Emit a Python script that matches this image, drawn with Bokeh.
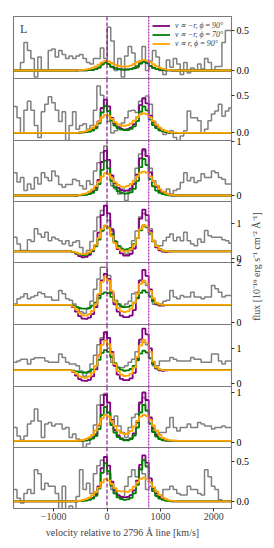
import math
import numpy as np
from bokeh.plotting import figure
from bokeh.layouts import column, row
from bokeh.models import Range1d, FixedTicker, Span, Label, Legend, LegendItem
from bokeh.embed import file_html
from bokeh.resources import INLINE

FONT = "Liberation Serif"

# ---------------- data ----------------
X_START, X_END = -1750, 2330
DATA_BIN_START, DATA_BIN_WIDTH = -1750, 65      # observed spectrum bins [km/s]
MODEL_BIN_START, MODEL_BIN_WIDTH = -660, 60     # model bins [km/s]
LINE_2796 = 0
LINE_2803 = 780
X_TICKS = [-1000, 0, 1000, 2000]
X_TICK_LABELS = ["\u22121000", "0", "1000", "2000"]

data_p1 = [0.0, 0.0, 0.1, 0.35, 0.25, 0.15, -0.08, 0.17, 0.0, 0.0,
           0.25, 0.27, 0.17, 0.25, 0.2, 0.15, 0.18, 0.15, 0.18, 0.2,
           0.15, 0.1, 0.08, 0.15, 0.15, 0.28, 0.15, 0.54, 0.37, 0.0,
           0.15, -0.08, 0.18, 0.3, 0.22, 0.03, 0.08, 0.3, 0.0, 0.12,
           0.25, 0.17, 0.0, -0.05, 0.13, 0.04, 0.15, 0.08, -0.05, 0.1,
           -0.03, 0.03, 0.0, 0.08, 0.02, 0.15, 0.1, 0.0, 0.05, 0.05,
           0.35, 0.5, 0.5]
data_p2 = [0.35, 0.2, 0.0, 0.3, 0.42, 0.3, 0.1, -0.06, 0.28, 0.38,
           0.48, 0.4, 0.3, 0.15, 0.28, -0.1, 0.1, 0.28, 0.05, 0.1,
           0.12, 0.05, 0.1, 0.3, 0.62, 0.5, 0.35, 0.15, 0.0, 0.03,
           0.07, 0.13, 0.2, 0.29, 0.3, 0.27, 0.42, 0.45, 0.49, 0.38,
           0.15, 0.07, 0.03, -0.02, 0.0, 0.03, -0.06, -0.1, -0.04, 0.03,
           0.29, 0.2, 0.2, 0.16, 0.0, 0.05, 0.16, 0.25, 0.29, 0.38,
           0.22, 0.29, 0.33]
data_p3 = [0.42, 0.25, 0.33, 0.09, 0.21, 0.12, 0.33, 0.21, 0.42, 0.33,
           0.27, 0.45, 0.36, 0.2, 0.15, 0.2, 0.2, 0.3, 0.27, 0.18,
           0.12, 0.27, 0.2, 0.45, 0.6, 0.79, 0.91, 0.4, 0.18, 0.12,
           0.03, 0.12, -0.09, 0.09, 0.21, 0.5, 0.76, 0.82, 0.73, 0.5,
           0.27, 0.18, 0.06, 0.06, 0.12, 0.03, 0.09, 0.12, 0.24, 0.42,
           0.27, 0.33, 0.24, 0.27, 0.4, 0.33, 0.33, 0.45, 0.42, 0.33,
           0.3, 0.21, 0.21]
data_p4 = [0.62, 0.43, 0.24, 0.24, 0.55, 0.5, 0.86, 0.71, 0.62, 0.76,
           0.52, 0.62, 0.57, 0.52, 0.43, 0.52, 0.38, 0.48, 0.52, 0.33,
           0.14, 0.24, 0.5, 0.8, 1.2, 1.38, 1.52, 1.1, 0.8, 0.5,
           0.38, 0.24, 0.14, 0.24, 0.52, 0.8, 1.2, 1.3, 1.1, 0.86,
           0.52, 0.38, 0.38, 0.52, 0.62, 0.71, 0.52, 0.62, 0.52, 0.76,
           0.52, 0.43, 0.38, 0.57, 0.48, 0.81, 0.66, 0.62, 0.62, 0.62,
           0.55, 0.52, 0.45]
data_p5 = [0.61, 0.78, 0.84, 0.95, 0.78, 0.84, 0.89, 1.0, 0.95, 0.84,
           0.84, 0.73, 0.73, 1.06, 0.95, 0.78, 0.73, 0.61, 0.5, 0.35,
           0.3, 0.45, 0.7, 1.1, 1.45, 1.84, 1.84, 1.56, 0.95, 0.73,
           0.61, 0.5, 0.61, 0.7, 0.95, 1.0, 1.4, 1.34, 1.23, 0.89,
           0.6, 0.6, 0.61, 0.7, 0.73, 1.06, 0.84, 0.78, 0.89, 0.84,
           0.84, 1.0, 0.84, 0.84, 0.78, 0.84, 0.84, 1.23, 1.12, 1.0,
           0.84, 0.89, 0.89]
data_p6 = [0.6, 0.64, 0.69, 0.69, 0.55, 0.69, 0.73, 0.73, 0.73, 0.64,
           0.6, 0.6, 0.6, 0.84, 0.74, 0.6, 0.55, 0.55, 0.5, 0.35,
           0.2, 0.3, 0.55, 0.8, 1.1, 1.3, 1.41, 1.0, 0.6, 0.5,
           0.45, 0.45, 0.5, 0.6, 0.69, 0.9, 1.17, 1.17, 1.1, 0.7,
           0.5, 0.5, 0.64, 0.64, 0.64, 0.74, 0.69, 0.64, 0.64, 0.64,
           0.64, 0.74, 0.69, 0.69, 0.6, 0.6, 0.6, 0.84, 0.84, 0.64,
           0.55, 0.64, 0.64]
data_p7 = [0.3, 0.13, 0.05, 0.13, 0.37, 0.43, 0.67, 0.43, 0.1, 0.37,
           0.4, 0.33, 0.37, 0.37, 0.27, 0.3, 0.1, 0.17, 0.07, 0.03,
           -0.1, -0.03, 0.1, 0.35, 0.75, 0.95, 0.98, 0.6, 0.37, 0.53,
           0.33, 0.2, 0.1, 0.3, 0.5, 0.57, 0.77, 0.9, 0.63, 0.37,
           0.23, 0.17, 0.2, 0.2, 0.3, 0.5, 0.3, 0.23, 0.3, 0.3,
           0.37, 0.3, 0.3, 0.4, 0.37, 0.33, 0.33, 0.27, 0.3, 0.3,
           0.33, 0.3, 0.3]
data_p8 = [0.15, 0.04, -0.02, 0.1, 0.15, 0.1, 0.4, 0.35, 0.15, 0.23,
           0.19, 0.19, 0.1, -0.1, 0.19, -0.1, -0.06, -0.1, 0.06, 0.4,
           0.15, 0.23, 0.1, 0.35, 0.45, 0.52, 0.48, 0.35, 0.15, 0.1,
           0.06, 0.06, 0.19, 0.31, 0.4, 0.31, 0.42, 0.35, 0.15, 0.19,
           0.15, 0.06, 0.06, 0.15, 0.15, 0.19, 0.15, 0.1, 0.08, 0.08,
           0.19, 0.15, 0.15, 0.1, 0.08, 0.4, 0.31, 0.19, 0.15, 0.02,
           0.0, 0.0, 0.0]

purple_p1 = [0, 0, 0.001, 0.002, 0.003, 0.005, 0.009, 0.018, 0.037, 0.079,
             0.105, 0.084, 0.047, 0.028, 0.018, 0.013, 0.011, 0.013, 0.017, 0.029,
             0.052, 0.092, 0.115, 0.098, 0.058, 0.035, 0.021, 0.012, 0.007, 0.003,
             0.001, 0, 0, 0]
green_p1 = [0, 0, 0.001, 0.002, 0.003, 0.005, 0.009, 0.017, 0.035, 0.075,
            0.1, 0.08, 0.045, 0.027, 0.017, 0.012, 0.01, 0.012, 0.017, 0.028,
            0.05, 0.088, 0.11, 0.094, 0.055, 0.033, 0.02, 0.011, 0.007, 0.003,
            0.001, 0, 0, 0]
orange_p1 = [0, 0.001, 0.004, 0.007, 0.012, 0.02, 0.032, 0.05, 0.074, 0.102,
             0.12, 0.114, 0.094, 0.072, 0.057, 0.05, 0.047, 0.052, 0.062, 0.081,
             0.104, 0.124, 0.13, 0.124, 0.104, 0.078, 0.055, 0.035, 0.021, 0.012,
             0.005, 0.003, 0.001, 0]
purple_p2 = [0, 0, 0.004, 0.009, 0.013, 0.022, 0.04, 0.075, 0.154, 0.33,
             0.44, 0.352, 0.198, 0.119, 0.075, 0.053, 0.045, 0.051, 0.069, 0.115,
             0.207, 0.368, 0.46, 0.391, 0.23, 0.138, 0.083, 0.046, 0.028, 0.014,
             0.005, 0, 0, 0]
green_p2 = [0, 0, 0.004, 0.007, 0.011, 0.018, 0.032, 0.061, 0.126, 0.27,
            0.36, 0.288, 0.162, 0.097, 0.061, 0.043, 0.036, 0.039, 0.053, 0.088,
            0.158, 0.28, 0.35, 0.298, 0.175, 0.105, 0.063, 0.035, 0.021, 0.011,
            0.004, 0, 0, 0]
orange_p2 = [0, 0.002, 0.007, 0.014, 0.024, 0.041, 0.065, 0.101, 0.149, 0.204,
             0.24, 0.228, 0.187, 0.144, 0.113, 0.096, 0.095, 0.104, 0.125, 0.161,
             0.208, 0.247, 0.26, 0.247, 0.208, 0.156, 0.109, 0.07, 0.042, 0.023,
             0.01, 0.005, 0.003, 0]
purple_p3 = [0, 0, 0.008, 0.016, 0.025, 0.041, 0.074, 0.139, 0.287, 0.615,
             0.82, 0.656, 0.369, 0.221, 0.139, 0.098, 0.085, 0.094, 0.128, 0.213,
             0.383, 0.68, 0.85, 0.723, 0.425, 0.255, 0.153, 0.085, 0.051, 0.026,
             0.009, 0, 0, 0]
green_p3 = [0, 0, 0.004, 0.008, 0.013, 0.025, 0.05, 0.1, 0.21, 0.47,
            0.64, 0.5, 0.27, 0.15, 0.08, 0.05, 0.035, 0.04, 0.06, 0.12,
            0.27, 0.52, 0.67, 0.56, 0.3, 0.17, 0.09, 0.05, 0.025, 0.012,
            0.005, 0, 0, 0]
orange_p3 = [0, 0.004, 0.012, 0.025, 0.041, 0.07, 0.111, 0.172, 0.254, 0.349,
             0.41, 0.39, 0.32, 0.246, 0.193, 0.164, 0.158, 0.176, 0.211, 0.273,
             0.352, 0.418, 0.44, 0.418, 0.352, 0.264, 0.185, 0.119, 0.07, 0.04,
             0.018, 0.009, 0.004, 0]
purple_p4 = [0.2, 0.15, 0.08, 0.05, 0.06, 0.12, 0.22, 0.4, 0.75, 1.25,
             1.52, 1.3, 0.85, 0.5, 0.28, 0.16, 0.1, 0.1, 0.15, 0.3,
             0.6, 1.15, 1.41, 1.25, 0.8, 0.5, 0.33, 0.25, 0.21, 0.2,
             0.21, 0.22, 0.22, 0.22]
green_p4 = [0.2, 0.17, 0.13, 0.11, 0.12, 0.16, 0.24, 0.36, 0.55, 0.8,
            0.95, 0.9, 0.7, 0.5, 0.37, 0.3, 0.27, 0.28, 0.32, 0.42,
            0.6, 0.82, 0.95, 0.9, 0.72, 0.52, 0.38, 0.29, 0.24, 0.22,
            0.22, 0.22, 0.22, 0.22]
orange_p4 = [0.21, 0.18, 0.15, 0.14, 0.15, 0.19, 0.27, 0.4, 0.6, 0.85,
             0.95, 0.88, 0.65, 0.45, 0.32, 0.25, 0.22, 0.23, 0.28, 0.4,
             0.6, 0.85, 0.97, 0.93, 0.75, 0.52, 0.37, 0.28, 0.24, 0.22,
             0.22, 0.22, 0.22, 0.22]
purple_p5 = [0.5, 0.35, 0.2, 0.12, 0.11, 0.15, 0.27, 0.5, 0.9, 1.4,
             1.62, 1.45, 1.0, 0.6, 0.35, 0.22, 0.17, 0.17, 0.22, 0.4,
             0.8, 1.4, 1.75, 1.55, 1.1, 0.75, 0.6, 0.55, 0.55, 0.57,
             0.58, 0.58, 0.58, 0.58]
green_p5 = [0.55, 0.5, 0.47, 0.45, 0.45, 0.48, 0.55, 0.65, 0.8, 0.95,
            1.0, 0.97, 0.85, 0.7, 0.6, 0.53, 0.5, 0.51, 0.55, 0.65,
            0.82, 0.98, 1.06, 1.0, 0.85, 0.7, 0.62, 0.59, 0.58, 0.58,
            0.58, 0.58, 0.58, 0.58]
orange_p5 = [0.52, 0.42, 0.3, 0.23, 0.22, 0.27, 0.38, 0.6, 0.95, 1.35,
             1.53, 1.4, 1.05, 0.7, 0.48, 0.37, 0.34, 0.36, 0.45, 0.65,
             0.95, 1.28, 1.4, 1.3, 1.05, 0.8, 0.65, 0.6, 0.58, 0.58,
             0.58, 0.58, 0.58, 0.58]
purple_p6 = [0.33, 0.22, 0.12, 0.08, 0.07, 0.1, 0.2, 0.4, 0.8, 1.25,
             1.46, 1.3, 0.9, 0.5, 0.25, 0.13, 0.09, 0.09, 0.14, 0.3,
             0.7, 1.25, 1.56, 1.4, 1.0, 0.6, 0.42, 0.37, 0.36, 0.37,
             0.375, 0.375, 0.375, 0.375]
green_p6 = [0.36, 0.34, 0.32, 0.31, 0.31, 0.34, 0.4, 0.5, 0.67, 0.87,
            0.95, 0.9, 0.75, 0.58, 0.45, 0.39, 0.36, 0.37, 0.41, 0.5,
            0.66, 0.85, 0.93, 0.88, 0.72, 0.55, 0.44, 0.39, 0.38, 0.375,
            0.375, 0.375, 0.375, 0.375]
orange_p6 = [0.34, 0.27, 0.2, 0.17, 0.16, 0.2, 0.3, 0.5, 0.8, 1.1,
             1.22, 1.12, 0.85, 0.55, 0.35, 0.25, 0.21, 0.22, 0.28, 0.45,
             0.75, 1.08, 1.24, 1.15, 0.9, 0.62, 0.46, 0.4, 0.38, 0.375,
             0.375, 0.375, 0.375, 0.375]
purple_p7 = [0.033, 0.033, 0.035, 0.04, 0.045, 0.06, 0.09, 0.16, 0.35, 0.75,
             0.95, 0.8, 0.45, 0.25, 0.14, 0.08, 0.05, 0.05, 0.08, 0.18,
             0.4, 0.8, 1.0, 0.85, 0.5, 0.28, 0.15, 0.08, 0.05, 0.04,
             0.033, 0.033, 0.033, 0.033]
green_p7 = [0.033, 0.033, 0.034, 0.038, 0.042, 0.055, 0.08, 0.13, 0.27, 0.55,
            0.71, 0.6, 0.35, 0.2, 0.11, 0.07, 0.045, 0.045, 0.07, 0.14,
            0.3, 0.6, 0.75, 0.64, 0.38, 0.21, 0.12, 0.07, 0.045, 0.038,
            0.033, 0.033, 0.033, 0.033]
orange_p7 = [0.033, 0.035, 0.04, 0.05, 0.07, 0.1, 0.15, 0.24, 0.36, 0.48,
             0.55, 0.52, 0.43, 0.33, 0.24, 0.19, 0.17, 0.18, 0.23, 0.32,
             0.43, 0.52, 0.55, 0.53, 0.45, 0.34, 0.24, 0.15, 0.09, 0.06,
             0.045, 0.04, 0.035, 0.033]
purple_p8 = [0, 0, 0.005, 0.01, 0.015, 0.025, 0.045, 0.09, 0.19, 0.42,
             0.56, 0.45, 0.25, 0.14, 0.08, 0.055, 0.05, 0.055, 0.08, 0.14,
             0.26, 0.46, 0.58, 0.49, 0.29, 0.17, 0.1, 0.055, 0.03, 0.015,
             0.005, 0, 0, 0]
green_p8 = [0, 0, 0.003, 0.006, 0.01, 0.018, 0.035, 0.07, 0.16, 0.36,
            0.48, 0.38, 0.2, 0.1, 0.05, 0.03, 0.02, 0.025, 0.045, 0.1,
            0.21, 0.4, 0.52, 0.44, 0.24, 0.13, 0.07, 0.035, 0.018, 0.008,
            0.003, 0, 0, 0]
orange_p8 = [0, 0.003, 0.008, 0.017, 0.028, 0.048, 0.076, 0.118, 0.174, 0.238,
             0.28, 0.266, 0.218, 0.168, 0.132, 0.125, 0.125, 0.12, 0.144, 0.186,
             0.24, 0.285, 0.3, 0.285, 0.24, 0.18, 0.126, 0.081, 0.048, 0.027,
             0.012, 0.006, 0.003, 0]

continuum = [0, 0, 0, 0.22, 0.58, 0.375, 0.033, 0]
y_start = [-0.1, -0.1, -0.11, -0.1, -0.08, -0.09, -0.1, -0.09]
y_end = [0.675, 0.72, 1.01, 1.64, 2.0, 1.68, 1.12, 0.68]
y_ticks = [[0, 0.5], [0, 0.5], [0, 1], [0, 1], [0, 2], [0, 1], [0, 1], [0, 0.5]]
y_tick_labels = [["0.0", "0.5"], ["0.0", "0.5"], ["0", "1"], ["0", "1"],
                 ["0", "2"], ["0", "1"], ["0", "1"], ["0.0", "0.5"]]

TS = "\u2009"  # thin space, as in the math-text legend
legend_labels = ["v" + TS + "\u221d" + TS + "\u2212r, \u03d5" + TS + "=" + TS + "90\u00b0",
                 "v" + TS + "\u221d" + TS + "\u2212r, \u03d5" + TS + "=" + TS + "70\u00b0",
                 "v" + TS + "\u221d" + TS + "r, \u03d5" + TS + "=" + TS + "90\u00b0"]
PANEL_TAG = "L"
X_LABEL = "velocity relative to 2796 \u00c5 line [km/s]"
Y_LABEL = "flux [10\u207b\u00b9\u2079 erg s\u207b\u00b9 cm\u207b\u00b2 \u00c5\u207b\u00b9]"

# ---------------- styling / layout ----------------
C_DATA = "#808080"
C_PURPLE = "#800080"
C_GREEN = "#008000"
C_ORANGE = "#ffa500"
C_DASH = "#800080"
C_DOT = "#b43cbe"
FRAME_W = 219
FRAME_H = [62, 62, 61, 61, 62, 62, 61, 62]
LEFT_B, RIGHT_B = 13, 20
PAD = 7          # overlap strip so tick labels at panel edges are not clipped
TOP_B, BOTTOM_B = 16, 31

panels = [
    (data_p1, purple_p1, green_p1, orange_p1),
    (data_p2, purple_p2, green_p2, orange_p2),
    (data_p3, purple_p3, green_p3, orange_p3),
    (data_p4, purple_p4, green_p4, orange_p4),
    (data_p5, purple_p5, green_p5, orange_p5),
    (data_p6, purple_p6, green_p6, orange_p6),
    (data_p7, purple_p7, green_p7, orange_p7),
    (data_p8, purple_p8, green_p8, orange_p8),
]

n_panels = len(panels)
figs = []
for j, (dat, pur, gre, ora) in enumerate(panels):
    first = j == 0
    last = j == n_panels - 1
    bt = TOP_B if first else PAD
    bb = BOTTOM_B if last else PAD
    p = figure(width=LEFT_B + FRAME_W + RIGHT_B, height=bt + FRAME_H[j] + bb,
               x_range=Range1d(X_START, X_END),
               y_range=Range1d(y_start[j], y_end[j]),
               toolbar_location=None, output_backend="svg",
               x_axis_location="below" if last else None,
               y_axis_location="right",
               min_border_left=LEFT_B, min_border_right=RIGHT_B,
               min_border_top=bt, min_border_bottom=bb,
               margin=(0 if first else -2 * PAD, 0, 0, 0),
               background_fill_color="white", border_fill_alpha=0)
    p.grid.grid_line_color = None
    p.outline_line_color = "#7a7a7a"
    p.outline_line_width = 1.1

    ax = p.yaxis[0]
    ax.ticker = FixedTicker(ticks=y_ticks[j])
    ax.major_label_overrides = {t: s for t, s in zip(y_ticks[j], y_tick_labels[j])}
    ax.axis_line_color = None
    ax.major_tick_in = 0
    ax.major_tick_out = 3
    ax.minor_tick_out = 0
    ax.minor_tick_in = 0
    ax.major_tick_line_color = "#333333"
    ax.major_label_standoff = 2
    ax.major_label_text_font = FONT
    ax.major_label_text_font_size = "10px"
    ax.major_label_text_color = "black"

    if last:
        xa = p.xaxis[0]
        xa.ticker = FixedTicker(ticks=X_TICKS)
        xa.major_label_overrides = {t: s for t, s in zip(X_TICKS, X_TICK_LABELS)}
        xa.axis_line_color = None
        xa.major_tick_in = 0
        xa.major_tick_out = 3
        xa.minor_tick_out = 0
        xa.minor_tick_in = 0
        xa.major_tick_line_color = "#333333"
        xa.major_label_standoff = 1
        xa.major_label_text_font = FONT
        xa.major_label_text_font_size = "10px"
        xa.axis_label = X_LABEL
        xa.axis_label_text_font = FONT
        xa.axis_label_text_font_style = "normal"
        xa.axis_label_text_font_size = "10px"
        xa.axis_label_standoff = 4

    # observed spectrum
    d_edges = DATA_BIN_START + DATA_BIN_WIDTH * np.arange(len(dat) + 1)
    p.step(d_edges, list(dat) + [dat[-1]], mode="after",
           line_color=C_DATA, line_width=1.5)

    # models
    m_edges = MODEL_BIN_START + MODEL_BIN_WIDTH * np.arange(len(pur) + 1)
    mx = [X_START - 200] + list(m_edges) + [X_END + 200]
    rends = []
    for vals, col in ((pur, C_PURPLE), (gre, C_GREEN), (ora, C_ORANGE)):
        my = [continuum[j]] + list(vals) + [continuum[j], continuum[j]]
        r = p.step(mx, my, mode="after", line_color=col, line_width=1.8)
        rends.append(r)

    p.add_layout(Span(location=LINE_2796, dimension="height", line_color=C_DASH,
                      line_dash="4 2", line_width=1.1))
    p.add_layout(Span(location=LINE_2803, dimension="height", line_color=C_DOT,
                      line_dash="2 1", line_width=1.4))

    if first:
        legend = Legend(items=[LegendItem(label=lab, renderers=[r])
                               for lab, r in zip(legend_labels, rends)],
                        location=(139, 30), orientation="vertical",
                        glyph_width=18, glyph_height=9, label_height=9,
                        label_width=10, spacing=0, padding=0, margin=0,
                        label_standoff=5, border_line_color=None,
                        background_fill_alpha=0,
                        label_text_font=FONT, label_text_font_style="italic",
                        label_text_font_size="8px")
        p.add_layout(legend)
        p.add_layout(Label(x=-1630, y=0.52, text=PANEL_TAG, text_font=FONT,
                           text_font_size="12px", text_baseline="alphabetic"))
    figs.append(p)

stack = column(*figs, spacing=0)

total_h = TOP_B + sum(FRAME_H) + BOTTOM_B
LAB_W = 20
lab_fig = figure(width=LAB_W, height=total_h, toolbar_location=None,
                 output_backend="svg", x_range=Range1d(0, 1), y_range=Range1d(0, 1),
                 min_border=0, outline_line_color=None, border_fill_alpha=0,
                 background_fill_alpha=0, margin=(0, 0, 0, -6),
                 x_axis_location=None, y_axis_location=None)
lab_fig.grid.grid_line_color = None
lab_fig.add_layout(Label(x=9.5, y=total_h - 266, x_units="screen", y_units="screen",
                         text=Y_LABEL, angle=math.pi / 2, text_align="center",
                         text_baseline="middle", text_font=FONT,
                         text_font_size="10px"))

layout = row(stack, lab_fig, spacing=0)
open("out.html", "w").write(file_html(layout, INLINE))
